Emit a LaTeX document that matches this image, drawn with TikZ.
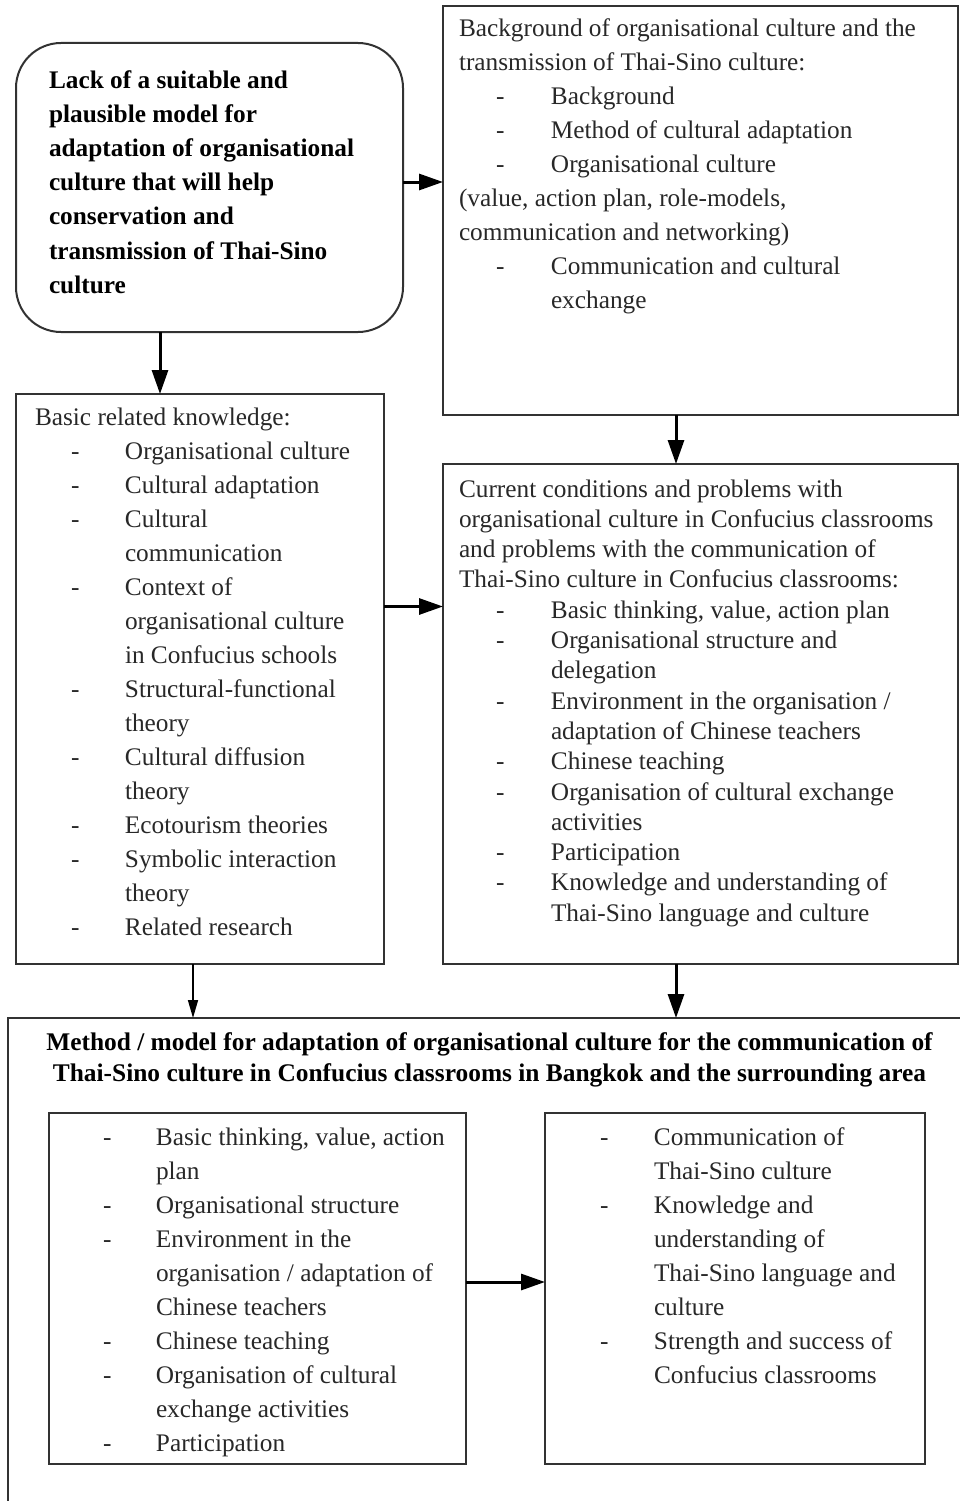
\documentclass[tikz,border=0pt]{standalone}
\usepackage{fontspec}
\setmainfont{Liberation Serif}
\usetikzlibrary{arrows.meta}
\definecolor{boxline}{RGB}{50,50,50}
\definecolor{txt}{RGB}{40,40,40}
\newlength\ii
\newlength\di
\newcommand\DI[1]{\makebox[\ii][l]{\hspace*{\di}-}#1}
\newcommand\CI[1]{\hspace*{\ii}#1}
\begin{document}
\begin{tikzpicture}[x=1pt,y=-1pt,
  box/.style={draw=boxline, line width=2pt, fill=white, inner sep=0pt, outer sep=0pt, anchor=north west},
  txtnode/.style={inner sep=0pt, outer sep=0pt, anchor=base west, text=txt, font=\fontsize{25.3}{34}\selectfont},
  arr/.style={draw=black, line width=3pt, -{Triangle[length=24pt,width=16pt]}},
  thinarr/.style={draw=black, line width=1.6pt, -{Triangle[length=18pt,width=10pt]}}]
\useasboundingbox[fill=white] (0,0) rectangle (960,1501);

% boxes
\node[box, rounded corners=45pt, minimum width=387pt, minimum height=289pt] (A) at (16,43) {};
\node[box, minimum width=515pt, minimum height=409pt] (B) at (443,6) {};
\node[box, minimum width=368pt, minimum height=570pt] (C) at (16,394) {};
\node[box, minimum width=515pt, minimum height=500pt] (D) at (443,464) {};
\node[box, minimum width=1000pt, minimum height=600pt] (E) at (8,1018) {};
\node[box, minimum width=417pt, minimum height=351pt] (F) at (49,1113) {};
\node[box, minimum width=380pt, minimum height=351pt] (G) at (545,1113) {};

% texts
\node[txtnode, text=black, font=\fontsize{25.3}{34}\selectfont\bfseries] (At) at (49,89) {\parbox[t]{360pt}{%
Lack of a suitable and\\
plausible model for\\
adaptation of organisational\\
culture that will help\\
conservation and\\
transmission of Thai-Sino\\
culture}};

\node[txtnode] (Bt) at (459,37) {\parbox[t]{500pt}{\setlength\ii{92pt}\setlength\di{37pt}%
Background of organisational culture and the\\
transmission of Thai-Sino culture:\\
\DI{Background}\\
\DI{Method of cultural adaptation}\\
\DI{Organisational culture}\\
(value, action plan, role-models,\\
communication and networking)\\
\DI{Communication and cultural}\\
\CI{exchange}}};

\node[txtnode] (Ct) at (35,425) {\parbox[t]{350pt}{\setlength\ii{90pt}\setlength\di{36pt}%
Basic related knowledge:\\
\DI{Organisational culture}\\
\DI{Cultural adaptation}\\
\DI{Cultural}\\
\CI{communication}\\
\DI{Context of}\\
\CI{organisational culture}\\
\CI{in Confucius schools}\\
\DI{Structural-functional}\\
\CI{theory}\\
\DI{Cultural diffusion}\\
\CI{theory}\\
\DI{Ecotourism theories}\\
\DI{Symbolic interaction}\\
\CI{theory}\\
\DI{Related research}}};

\node[txtnode, font=\fontsize{25.3}{30.3}\selectfont] (Dt) at (459,497) {\parbox[t]{500pt}{\setlength\ii{92pt}\setlength\di{37pt}%
Current conditions and problems with\\
organisational culture in Confucius classrooms\\
and problems with the communication of\\
Thai-Sino culture in Confucius classrooms:\\
\DI{Basic thinking, value, action plan}\\
\DI{Organisational structure and}\\
\CI{delegation}\\
\DI{Environment in the organisation /}\\
\CI{adaptation of Chinese teachers}\\
\DI{Chinese teaching}\\
\DI{Organisation of cultural exchange}\\
\CI{activities}\\
\DI{Participation}\\
\DI{Knowledge and understanding of}\\
\CI{Thai-Sino language and culture}}};

\node[inner sep=0pt, outer sep=0pt, anchor=base, text=black, font=\fontsize{25.4}{31}\selectfont\bfseries] (Et) at (489.5,1050) {\parbox[t]{940pt}{\centering
Method / model for adaptation of organisational culture for the communication of\\
Thai-Sino culture in Confucius classrooms in Bangkok and the surrounding area}};

\node[txtnode] (Ft) at (103,1145) {\parbox[t]{360pt}{\setlength\ii{53pt}\setlength\di{0pt}%
\DI{Basic thinking, value, action}\\
\CI{plan}\\
\DI{Organisational structure}\\
\DI{Environment in the}\\
\CI{organisation / adaptation of}\\
\CI{Chinese teachers}\\
\DI{Chinese teaching}\\
\DI{Organisation of cultural}\\
\CI{exchange activities}\\
\DI{Participation}}};

\node[txtnode] (Gt) at (600,1145) {\parbox[t]{320pt}{\setlength\ii{54pt}\setlength\di{0pt}%
\DI{Communication of}\\
\CI{Thai-Sino culture}\\
\DI{Knowledge and}\\
\CI{understanding of}\\
\CI{Thai-Sino language and}\\
\CI{culture}\\
\DI{Strength and success of}\\
\CI{Confucius classrooms}}};

% connectors
\path ([yshift=5.5pt]A.east) coordinate (ab);
\draw[arr] (ab) -- (ab -| B.west);
\path ([xshift=-49.5pt]A.south) coordinate (ac);
\draw[arr] (ac) -- (ac |- C.north);
\path ([xshift=-24.5pt]B.south) coordinate (bd);
\draw[arr] (bd) -- (bd |- D.north);
\path ([yshift=72.5pt]C.east) coordinate (cd);
\draw[arr] (cd) -- (cd -| D.west);
\path ([xshift=-7pt]C.south) coordinate (ce);
\draw[thinarr] (ce) -- (ce |- E.north);
\path ([xshift=-24.5pt]D.south) coordinate (de);
\draw[arr] (de) -- (de |- E.north);
\path ([yshift=6.5pt]F.east) coordinate (fg);
\draw[arr] (fg) -- (fg -| G.west);
\end{tikzpicture}
\end{document}
